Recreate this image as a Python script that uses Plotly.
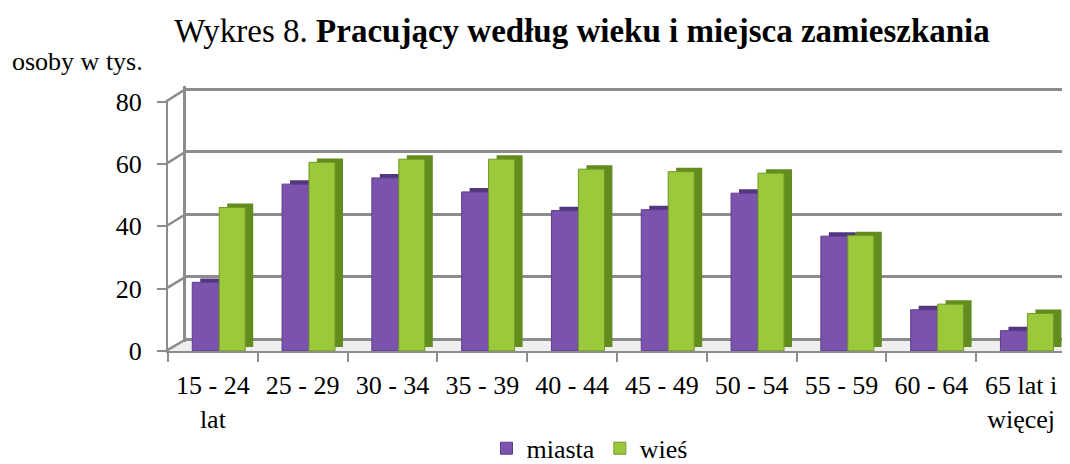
import plotly.graph_objects as go

# Pracujący według wieku i miejsca zamieszkania (osoby w tys.)
categories = ['15 - 24<br>lat', '25 - 29', '30 - 34', '35 - 39', '40 - 44',
              '45 - 49', '50 - 54', '55 - 59', '60 - 64', '65 lat i<br>więcej']
miasta = [22, 53.5, 55.5, 51, 45, 45.3, 50.6, 36.8, 13.2, 6.5]
wies = [46, 60.5, 61.5, 61.5, 58.3, 57.5, 57, 37, 15, 12]
grid_vals = [0, 20, 40, 60, 80]

W, H = 1070, 464
FONT = 'Liberation Serif'
PURPLE = '#7b52ae'
PURPLE_DARK = '#52367e'
GREEN = '#9cc93b'
GREEN_DARK = '#638c1f'
AXIS = '#8c8c8c'

# pixel boxes of the front axes and of the back wall
FRONT_L, FRONT_R, FRONT_T, FRONT_B = 160, 1058, 96, 352
BACK_L, BACK_T, BACK_B = 178, 83, 340
DEPTH = 0.089   # bar depth, in category widths (about 8 px)


def px_x(a, b):
    return [a / W, b / W]


def px_y(top, bottom):
    return [1 - bottom / H, 1 - top / H]


fig = go.Figure()

# back wall (gridlines) on the first subplot so it stays under the bars
fig.add_trace(go.Scatter(x=[0], y=[0], xaxis='x', yaxis='y', mode='markers',
                         marker=dict(opacity=0), showlegend=False, hoverinfo='skip'))

# the depth of each column: same values, drawn on an axis shifted a few px up and right
fig.add_trace(go.Bar(x=categories, y=miasta, name='miasta', xaxis='x2', yaxis='y2',
                     marker=dict(color=PURPLE_DARK, line=dict(width=0)),
                     offset=-0.23 + DEPTH, width=0.30, showlegend=False, hoverinfo='skip'))
fig.add_trace(go.Bar(x=categories, y=wies, name='wieś', xaxis='x2', yaxis='y2',
                     marker=dict(color=GREEN_DARK, line=dict(width=0)),
                     offset=0.07 + DEPTH, width=0.29, showlegend=False, hoverinfo='skip'))

# front faces
fig.add_trace(go.Bar(x=categories, y=miasta, name='miasta', xaxis='x2', yaxis='y3',
                     marker=dict(color=PURPLE, line=dict(color='#5e3d8c', width=1)),
                     offset=-0.23, width=0.30))
fig.add_trace(go.Bar(x=categories, y=wies, name='wieś', xaxis='x2', yaxis='y3',
                     marker=dict(color=GREEN, line=dict(color='#6f9a25', width=1)),
                     offset=0.07, width=0.29))

# floor and the little diagonal links between front axis and back wall
shapes = [dict(type='path', xref='paper', yref='paper', layer='below',
               path='M{:.4f},{:.4f} L{:.4f},{:.4f} L{:.4f},{:.4f} L{:.4f},{:.4f} Z'.format(
                   FRONT_L / W, 1 - FRONT_B / H, FRONT_R / W, 1 - FRONT_B / H,
                   1.0, 1 - BACK_B / H, BACK_L / W, 1 - BACK_B / H),
               fillcolor='#efefef', line=dict(width=0))]
for v in grid_vals:
    yf = FRONT_B - v * (FRONT_B - FRONT_T) / 80
    yb = BACK_B - v * (BACK_B - BACK_T) / 80
    shapes.append(dict(type='line', xref='paper', yref='paper',
                       x0=(FRONT_L - 2) / W, y0=1 - yf / H, x1=BACK_L / W, y1=1 - yb / H,
                       line=dict(color=AXIS, width=2.5)))
shapes.append(dict(type='line', xref='paper', yref='paper',
                   x0=FRONT_R / W, y0=1 - FRONT_B / H, x1=1.0, y1=1 - (BACK_B + 2) / H,
                   line=dict(color=AXIS, width=2)))

fig.update_layout(
    width=W, height=H,
    margin=dict(l=0, r=0, t=0, b=0),
    paper_bgcolor='white',
    plot_bgcolor='rgba(0,0,0,0)',
    font=dict(family=FONT, size=26, color='black'),
    title=dict(text='Wykres 8. <b>Pracujący według wieku i miejsca zamieszkania</b>',
               x=574 / W, xanchor='center', y=1 - 22 / H, yanchor='middle',
               font=dict(family=FONT, size=33, color='black')),
    xaxis=dict(domain=px_x(BACK_L, W), range=[0, 1], visible=False, fixedrange=True),
    yaxis=dict(domain=px_y(80, 343), range=[-0.93, 81.0], anchor='x', automargin=False,
               tickvals=grid_vals, showticklabels=False, ticks='',
               showgrid=True, gridcolor=AXIS, gridwidth=2.5,
               zeroline=False, showline=True, linecolor=AXIS, linewidth=2.5),
    xaxis2=dict(domain=px_x(FRONT_L, FRONT_R), anchor='y2', type='category',
                range=[-0.5, 9.5], showgrid=False, showline=True, automargin=False,
                linecolor=AXIS, linewidth=2, ticks='outside', tickson='boundaries',
                ticklen=9, tickcolor=AXIS, tickwidth=2, ticklabelstandoff=10,
                tickfont=dict(family=FONT, size=26, color='black')),
    yaxis2=dict(domain=px_y(FRONT_T, FRONT_B), anchor='x2', range=[-1.25, 78.75],
                showgrid=False, zeroline=False, automargin=False, visible=False),
    yaxis3=dict(overlaying='y2', anchor='x2', range=[0, 80], side='left',
                tickvals=grid_vals, showgrid=False, zeroline=False, automargin=False,
                showline=True, linecolor=AXIS, linewidth=2,
                ticks='outside', ticklen=9, tickcolor=AXIS, tickwidth=2,
                ticklabelstandoff=10,
                tickfont=dict(family=FONT, size=26, color='black')),
    barmode='overlay',
    legend=dict(orientation='h', x=582 / W, xanchor='center', y=1 - 452 / H, yanchor='middle',
                font=dict(family=FONT, size=26, color='black'),
                itemwidth=30, traceorder='normal', bgcolor='rgba(0,0,0,0)'),
    shapes=shapes,
    annotations=[dict(text='osoby w tys.', xref='paper', yref='paper',
                      x=2 / W, xanchor='left', y=1 - 55 / H, yanchor='middle',
                      showarrow=False, font=dict(family=FONT, size=26, color='black'))],
)

fig.write_html('out.html')
